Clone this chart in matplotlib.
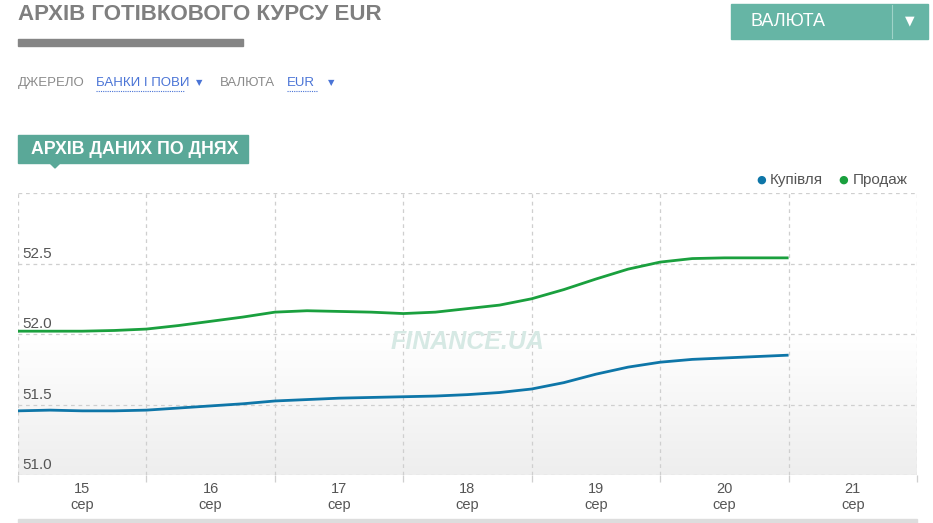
import matplotlib.pyplot as plt
import numpy as np
from matplotlib.patches import Rectangle, Polygon
from matplotlib.colors import LinearSegmentedColormap

plt.rcParams['font.family'] = ['Liberation Sans', 'DejaVu Sans']

# data: days since start of 15 сер, quarter-day steps
t = [i * 0.25 for i in range(25)]
buy = [51.455, 51.46, 51.455, 51.455, 51.46, 51.475, 51.49, 51.505, 51.525, 51.535, 51.545, 51.55,
       51.555, 51.56, 51.57, 51.585, 51.61, 51.655, 51.715, 51.765, 51.80, 51.82, 51.83, 51.84, 51.85]
sell = [52.02, 52.02, 52.02, 52.025, 52.035, 52.06, 52.09, 52.12, 52.155, 52.165, 52.16, 52.155,
        52.145, 52.155, 52.18, 52.205, 52.25, 52.315, 52.39, 52.46, 52.51, 52.535, 52.54, 52.54, 52.54]

days = ['15', '16', '17', '18', '19', '20', '21']
month = 'сер'
yticks = [51.0, 51.5, 52.0, 52.5]

fig = plt.figure(figsize=(9.33, 5.23), dpi=100)
W, H = 933, 523


def fx(px):
    return px / W


def fy(py):
    return 1 - py / H


# header
fig.text(fx(18), fy(14), 'АРХІВ ГОТІВКОВОГО КУРСУ EUR', fontsize=16, fontweight='bold',
         color='#7f7f7f', va='center', ha='left')
fig.patches.append(Rectangle((fx(18), fy(46)), fx(225), 7 / H, transform=fig.transFigure,
                             color='#858585', figure=fig))

fig.text(fx(18), fy(83), 'ДЖЕРЕЛО', fontsize=9.5, color='#8a8a8a', va='center')
fig.text(fx(96), fy(83), 'БАНКИ І ПОВИ', fontsize=9.5, color='#4a74d6', va='center')
fig.lines.append(plt.Line2D([fx(96), fx(184)], [fy(91), fy(91)], transform=fig.transFigure,
                            color='#4a74d6', lw=0.8, ls=(0, (1, 1)), figure=fig))
fig.text(fx(196), fy(83), '▼', fontsize=6, color='#4a74d6', va='center', family='DejaVu Sans')
fig.text(fx(220), fy(83), 'ВАЛЮТА', fontsize=9.5, color='#8a8a8a', va='center')
fig.text(fx(287), fy(83), 'EUR', fontsize=9.5, color='#4a74d6', va='center')
fig.lines.append(plt.Line2D([fx(287), fx(318)], [fy(91), fy(91)], transform=fig.transFigure,
                            color='#4a74d6', lw=0.8, ls=(0, (1, 1)), figure=fig))
fig.text(fx(328), fy(83), '▼', fontsize=6, color='#4a74d6', va='center', family='DejaVu Sans')

# button
fig.patches.append(Rectangle((fx(731), fy(39)), fx(197), 35 / H, transform=fig.transFigure,
                             color='#66b5a5', figure=fig))
fig.lines.append(plt.Line2D([fx(892), fx(892)], [fy(5), fy(38)], transform=fig.transFigure,
                            color='#9fd3c8', lw=0.8, figure=fig))
fig.text(fx(750), fy(21), 'ВАЛЮТА', fontsize=13, color='white', va='center')
fig.text(fx(910), fy(21), '▼', fontsize=9, color='white', va='center', ha='center',
         family='DejaVu Sans')

# tab
fig.patches.append(Rectangle((fx(18), fy(163)), fx(230), 28 / H, transform=fig.transFigure,
                             color='#5aa898', figure=fig))
fig.patches.append(Polygon([(fx(50), fy(163)), (fx(60), fy(163)), (fx(55), fy(168))],
                           transform=fig.transFigure, color='#5aa898', figure=fig))
fig.text(fx(31), fy(149), 'АРХІВ ДАНИХ ПО ДНЯХ', fontsize=12.8, fontweight='bold', color='white',
         va='center')

# legend
fig.text(fx(761), fy(180), '●', fontsize=8, color='#0e76a8', va='center', ha='center',
         family='DejaVu Sans')
fig.text(fx(770), fy(180), 'Купівля', fontsize=11, color='#555555', va='center')
fig.text(fx(843), fy(180), '●', fontsize=8, color='#1aa03e', va='center', ha='center',
         family='DejaVu Sans')
fig.text(fx(853), fy(180), 'Продаж', fontsize=11, color='#555555', va='center')

# chart
ax = fig.add_axes([fx(18), fy(475), fx(899), 282 / H])
ax.set_xlim(0, 7)
ax.set_ylim(51.0, 53.0)
for s in ax.spines.values():
    s.set_visible(False)

cmap = LinearSegmentedColormap.from_list('bg', ['#ffffff', '#eeeeee'])
grad = np.linspace(0, 1, 100).reshape(-1, 1)
ax.imshow(grad, extent=[0, 7, 51.0, 52.0], origin='upper', cmap=cmap, aspect='auto', zorder=0)

for v in [51.0, 51.5, 52.0, 52.5, 53.0]:
    ax.axhline(v, color='#cfcfcf', lw=0.9, ls=(0, (3, 3)), zorder=1)
for d in range(8):
    ax.axvline(d, color='#cfcfcf', lw=0.9, ls=(0, (3, 3)), zorder=1)

ax.text(3.5, 51.94, 'FINANCE.UA', fontsize=18, fontstyle='italic', fontweight='bold',
        color='#d6e9e4', ha='center', va='center', zorder=1)

ax.plot(t, buy, color='#0e76a8', lw=2, zorder=3, solid_capstyle='butt')
ax.plot(t, sell, color='#1aa03e', lw=2, zorder=3, solid_capstyle='butt')

for v in yticks:
    ax.text(0.035, v + 0.02, '%.1f' % v, fontsize=11, color='#555555', va='bottom', ha='left')

ax.set_xticks(range(8))
ax.set_xticklabels([])
ax.tick_params(axis='x', length=5, color='#cfcfcf', width=0.9)
ax.set_yticks([])
for i, d in enumerate(days):
    ax.text(i + 0.5, -0.025, d + '\n' + month, transform=ax.get_xaxis_transform(),
            ha='center', va='top', fontsize=10.5, color='#555555', linespacing=1.15)

# bottom strip
fig.patches.append(Rectangle((fx(18), 0), fx(899), 4 / H, transform=fig.transFigure,
                             color='#dddddd', figure=fig))

fig.savefig('out.png', dpi=100)
